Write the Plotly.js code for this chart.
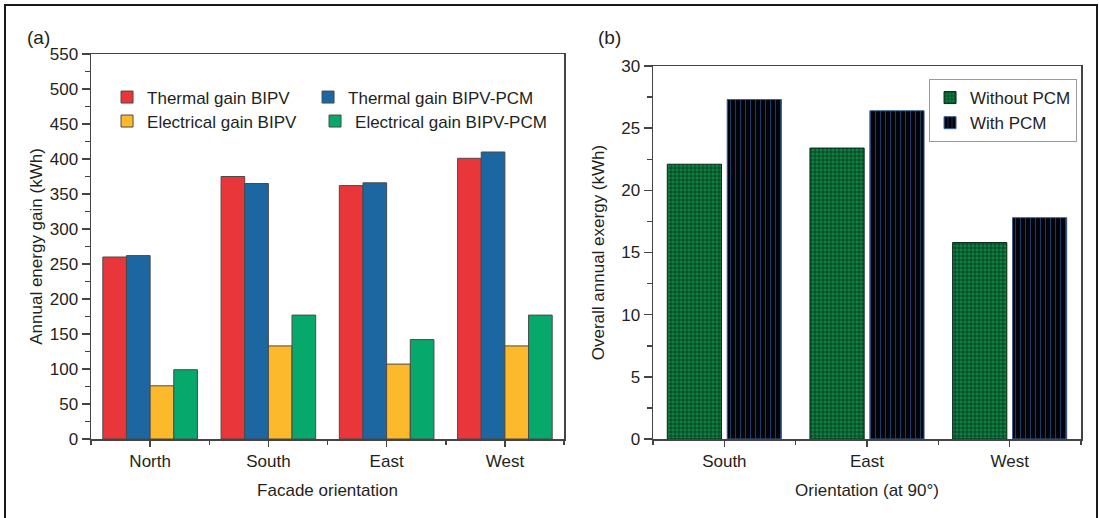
<!DOCTYPE html>
<html>
<head>
<meta charset="utf-8">
<script src="https://cdn.plot.ly/plotly-3.0.1.min.js"></script>
<style>
  html, body { margin: 0; padding: 0; background: #fff; overflow: hidden; }
  #wrap { position: relative; width: 1099px; height: 518px; }
  #chart { position: absolute; left: 0; top: 0; width: 1099px; height: 518px; }
  #frame { position: absolute; left: 4px; top: 4px; width: 1094px; height: 600px;
           box-sizing: border-box; border: 2px solid #1a1a1a; pointer-events: none; z-index: 10; }
</style>
</head>
<body>
<div id="wrap">
  <div id="chart"></div>
  <div id="frame"></div>
</div>
<script>
// ---- Panel (a) data ----
const categoriesA = ['North', 'South', 'East', 'West'];
const thermalBIPV = [260, 375, 362, 401];
const thermalBIPVPCM = [262, 365, 366, 410];
const electricalBIPV = [76, 133, 107, 133];
const electricalBIPVPCM = [99, 177, 142, 177];

// ---- Panel (b) data ----
const categoriesB = ['South', 'East', 'West'];
const withoutPCM = [22.1, 23.4, 15.8];
const withPCM = [27.3, 26.4, 17.8];

const FONT = 'Liberation Sans, Arial, sans-serif';
const TXT = '#231f20';
const AX = '#444';

const xa = categoriesA.map((c, i) => i);
const xb = categoriesB.map((c, i) => i);

const edge = {color: '#4a4a4a', width: 1};

const traces = [
  {type: 'bar', name: 'Thermal gain BIPV', x: xa, y: thermalBIPV, xaxis: 'x', yaxis: 'y',
   marker: {color: '#e8363b', line: edge}, legend: 'legend', legendwidth: 156},
  {type: 'bar', name: 'Thermal gain BIPV-PCM', x: xa, y: thermalBIPVPCM, xaxis: 'x', yaxis: 'y',
   marker: {color: '#1c66a2', line: edge}, legend: 'legend', legendwidth: 230},
  {type: 'bar', name: 'Electrical gain BIPV', x: xa, y: electricalBIPV, xaxis: 'x', yaxis: 'y',
   marker: {color: '#fbb92b', line: edge}, legend: 'legend2', legendwidth: 163},
  {type: 'bar', name: 'Electrical gain BIPV-PCM', x: xa, y: electricalBIPVPCM, xaxis: 'x', yaxis: 'y',
   marker: {color: '#06a86c', line: edge}, legend: 'legend2', legendwidth: 240},
  {type: 'bar', name: 'Without PCM', x: xb, y: withoutPCM, xaxis: 'x2', yaxis: 'y2',
   offset: -0.40, width: 0.38,
   marker: {color: '#0d7f40', line: {color: '#0b2a16', width: 1},
            pattern: {shape: '+', size: 4, solidity: 0.35, fgcolor: '#083318', bgcolor: '#0e8242', fillmode: 'replace'}},
   legend: 'legend3'},
  {type: 'bar', name: 'With PCM', x: xb, y: withPCM, xaxis: 'x2', yaxis: 'y2',
   offset: 0.02, width: 0.38,
   marker: {color: '#02040a', line: {color: '#3c5f92', width: 1},
            pattern: {shape: '|', size: 5, solidity: 0.2, fgcolor: '#1e3a66', bgcolor: '#02040a', fillmode: 'replace'}},
   legend: 'legend3'}
];

const tickFont = {family: FONT, size: 17, color: TXT};
const titleFont = {family: FONT, size: 17, color: TXT};

function xAxis(domain, cats, anchor, title, standoff) {
  return {
    domain: domain, anchor: anchor, type: 'linear',
    range: [-0.5, cats.length - 0.5],
    tickmode: 'array', tickvals: cats.map((c, i) => i), ticktext: cats,
    ticks: 'outside', ticklen: 6, tickwidth: 1.5, tickcolor: AX,
    minor: {tickmode: 'linear', tick0: 0.5, dtick: 1, ticks: 'outside', ticklen: 4, tickwidth: 1.5, tickcolor: AX, showgrid: false},
    showline: true, linecolor: AX, linewidth: 1.5, mirror: true,
    showgrid: false, zeroline: false, fixedrange: true,
    tickfont: tickFont,
    title: {text: title, font: titleFont, standoff: standoff}
  };
}
function yAxis(domain, range, dtick, minor, anchor, title, standoff) {
  return {
    domain: domain, anchor: anchor, range: range,
    tickmode: 'linear', tick0: 0, dtick: dtick,
    ticks: 'outside', ticklen: 8, tickwidth: 1.5, tickcolor: AX,
    minor: {tickmode: 'linear', tick0: 0, dtick: minor, ticks: 'outside', ticklen: 5, tickwidth: 1.5, tickcolor: AX, showgrid: false},
    showline: true, linecolor: AX, linewidth: 1.5, mirror: true,
    showgrid: false, zeroline: false, fixedrange: true,
    tickfont: tickFont,
    title: {text: title, font: titleFont, standoff: standoff}
  };
}

const legendFont = {family: FONT, size: 17, color: TXT};

const layout = {
  width: 1099, height: 518,
  margin: {l: 91, r: 18, t: 54, b: 79},
  paper_bgcolor: '#fff', plot_bgcolor: '#fff',
  font: {family: FONT, color: TXT},
  barmode: 'group', bargap: 0.2, bargroupgap: 0,
  showlegend: true,
  xaxis: xAxis([0, 0.4778], categoriesA, 'y', 'Facade orientation', 14),
  yaxis: yAxis([0, 1], [0, 550], 50, 25, 'x', 'Annual energy gain (kWh)', 3),
  xaxis2: xAxis([0.5677, 1], categoriesB, 'y2', 'Orientation (at 90°)', 14),
  yaxis2: yAxis([0, 0.9688], [0, 30], 5, 2.5, 'x2', 'Overall annual exergy (kWh)', 12),
  legend: {orientation: 'h', x: 0.0162, xanchor: 'left', y: 0.887, yanchor: 'middle',
           bgcolor: 'rgba(0,0,0,0)', borderwidth: 0, font: legendFont},
  legend2: {orientation: 'h', x: 0.0162, xanchor: 'left', y: 0.8247, yanchor: 'middle',
           bgcolor: 'rgba(0,0,0,0)', borderwidth: 0, font: legendFont},
  legend3: {orientation: 'v', x: 0.8465, xanchor: 'left', y: 0.935, yanchor: 'top',
           bgcolor: '#fff', bordercolor: '#9a9a9a', borderwidth: 1, font: legendFont,
           tracegroupgap: 0, traceorder: 'normal'},
  annotations: [
    {text: '(a)', xref: 'paper', yref: 'paper', x: -0.0667, y: 1.0416, xanchor: 'left', yanchor: 'middle',
     showarrow: false, font: {family: FONT, size: 19, color: TXT}},
    {text: '(b)', xref: 'paper', yref: 'paper', x: 0.510, y: 1.0416, xanchor: 'left', yanchor: 'middle',
     showarrow: false, font: {family: FONT, size: 19, color: TXT}}
  ]
};

Plotly.newPlot('chart', traces, layout, {displayModeBar: false, staticPlot: true});
</script>
</body>
</html>
